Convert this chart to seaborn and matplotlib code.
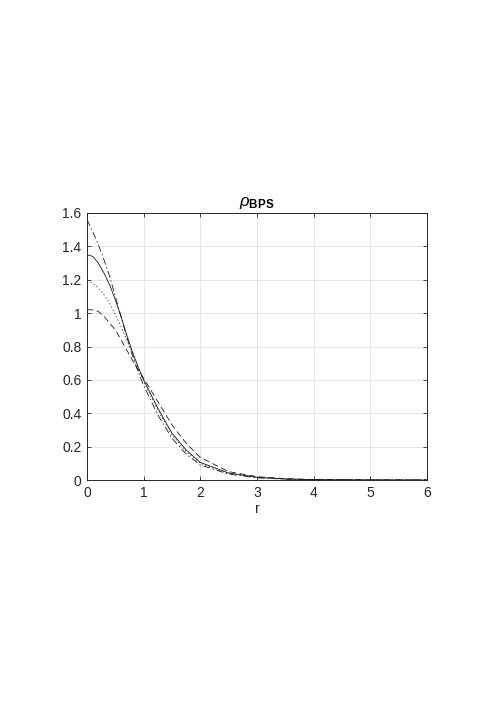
import matplotlib
matplotlib.use('Agg')
import matplotlib.pyplot as plt
import numpy as np
import seaborn as sns

# radial grid
r = [0.0, 0.1, 0.2, 0.3, 0.4, 0.5, 0.6, 0.7, 0.8, 0.9, 1.0,
     1.25, 1.5, 1.75, 2.0, 2.5, 3.0, 3.5, 4.0, 5.0, 6.0]

rho_solid = [1.35, 1.34, 1.30, 1.24, 1.17, 1.08, 0.98, 0.87, 0.77, 0.68, 0.60,
             0.43, 0.28, 0.18, 0.105, 0.042, 0.016, 0.006, 0.002, 0.0003, 0.0]
rho_dashdot = [1.56, 1.49, 1.41, 1.32, 1.22, 1.10, 0.98, 0.86, 0.75, 0.65, 0.565,
               0.39, 0.25, 0.155, 0.09, 0.035, 0.013, 0.005, 0.002, 0.0003, 0.0]
rho_dotted = [1.19, 1.18, 1.15, 1.11, 1.06, 0.99, 0.92, 0.84, 0.76, 0.67, 0.59,
              0.42, 0.27, 0.17, 0.10, 0.04, 0.016, 0.006, 0.002, 0.0003, 0.0]
rho_dashed = [1.02, 1.02, 1.01, 0.98, 0.94, 0.90, 0.84, 0.78, 0.72, 0.66, 0.61,
              0.47, 0.33, 0.22, 0.135, 0.05, 0.02, 0.008, 0.003, 0.0004, 0.0]

xticks = [0, 1, 2, 3, 4, 5, 6]
yticks = [0, 0.2, 0.4, 0.6, 0.8, 1.0, 1.2, 1.4, 1.6]
yticklabels = ['0', '0.2', '0.4', '0.6', '0.8', '1', '1.2', '1.4', '1.6']

sns.set_style('whitegrid')
plt.rcParams['font.family'] = ['Liberation Sans', 'DejaVu Sans']
plt.rcParams['mathtext.fontset'] = 'custom'
plt.rcParams['mathtext.rm'] = 'Liberation Sans'
plt.rcParams['mathtext.it'] = 'Liberation Sans:italic'
plt.rcParams['mathtext.bf'] = 'Liberation Sans:bold'
plt.rcParams['lines.scale_dashes'] = False

fig = plt.figure(figsize=(4.98, 7.05), dpi=100)
ax = fig.add_axes([87 / 498, 1 - 480 / 705, 340 / 498, 267 / 705])

styles = [
    (rho_solid, (0, ())),
    (rho_dashdot, (0, (5, 2, 1, 2))),
    (rho_dotted, (0, (0.8, 1.8))),
    (rho_dashed, (0, (4.5, 2.5))),
]
for vals, ls in styles:
    sns.lineplot(x=r, y=vals, color='#1a1a1a', linestyle=ls, lw=0.6, sort=False,
                 estimator=None, ax=ax)

ax.set_xlim(0, 6)
ax.set_ylim(0, 1.6)
ax.set_xticks(xticks)
ax.set_yticks(yticks)
ax.set_yticklabels(yticklabels)
ax.grid(True, color='#e0e0e0', lw=0.6)
for side in ['left', 'right', 'top', 'bottom']:
    ax.spines[side].set_visible(True)
    ax.spines[side].set_color('#262626')
    ax.spines[side].set_linewidth(0.7)
ax.tick_params(direction='in', length=3, width=0.6, color='#262626',
               labelsize=10, labelcolor='#262626', top=True, right=True,
               bottom=True, left=True, pad=4)
ax.set_xlabel('r', fontsize=10, color='#262626', labelpad=2)
ax.set_title(r'$\rho_{\mathbf{BPS}}$', fontsize=12, color='k', pad=5)

fig.savefig('out.png', dpi=100)
